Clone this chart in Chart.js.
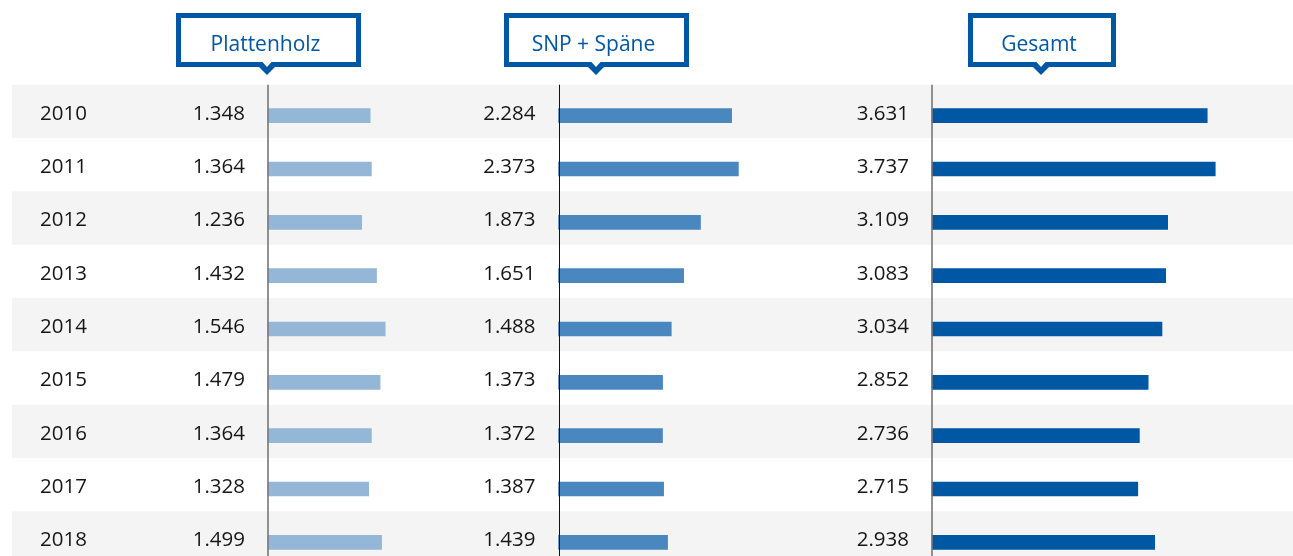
<!DOCTYPE html>
<html>
<head>
<meta charset="utf-8">
<script src="https://cdn.jsdelivr.net/npm/chart.js@4/dist/chart.umd.min.js"></script>
<style>
  html, body { margin: 0; padding: 0; background: #ffffff; overflow: hidden; }
  #wrap { width: 1293px; height: 572px; position: relative; }
</style>
</head>
<body>
<div id="wrap"><canvas id="c" width="1293" height="572"></canvas></div>
<script>
// ---- data ----
const years = ['2010', '2011', '2012', '2013', '2014', '2015', '2016', '2017', '2018'];
const plattenholz = [1348, 1364, 1236, 1432, 1546, 1479, 1364, 1328, 1499];
const snpSpaene   = [2284, 2373, 1873, 1651, 1488, 1373, 1372, 1387, 1439];
const gesamt      = [3631, 3737, 3109, 3083, 3034, 2852, 2736, 2715, 2938];
const seriesNames = ['Plattenholz', 'SNP + Späne', 'Gesamt'];

// ---- layout / style ----
const W = 1293;
const PX_PER_UNIT = 0.0758;               // pixels per data unit (shared scale)
const axisPx = [268, 558.5, 932];          // baseline positions of the three panels
const barColors = ['#95b7d7', '#4a87bf', '#0057a4'];
const axisColors = ['#777777', '#111111', '#777777'];
const axisWidths = [1.6, 1, 1.6];
const headerBoxes = [ // [left, right, pointerX]
  [176, 361, 267],
  [504, 689, 596],
  [968, 1116, 1041]
];
const BLUE = '#0057a4';
const FONT = '"Open Sans", "Liberation Sans", sans-serif';

function fmt(v) {
  const s = String(Math.round(v));
  return s.replace(/\B(?=(\d{3})+(?!\d))/g, '.');
}

function axisRange(px) {
  return { min: -px / PX_PER_UNIT, max: (W - px) / PX_PER_UNIT };
}

const seriesData = [plattenholz, snpSpaene, gesamt];

const decor = {
  id: 'decor',
  beforeDatasetsDraw(chart) {
    const ctx = chart.ctx;
    const y = chart.scales.y;
    const half = (y.getPixelForValue(1) - y.getPixelForValue(0)) / 2;
    ctx.save();
    ctx.fillStyle = '#f4f4f4';
    years.forEach((yr, i) => {
      if (i % 2 === 0) {
        const c = y.getPixelForValue(i) - 4.3;
        ctx.fillRect(12, c - half, W - 12, half * 2);
      }
    });
    ctx.restore();
  },
  afterDatasetsDraw(chart) {
    const ctx = chart.ctx;
    const y = chart.scales.y;
    const half = (y.getPixelForValue(1) - y.getPixelForValue(0)) / 2;
    const top = y.getPixelForValue(0) - 4.3 - half;
    ctx.save();
    // axis lines
    ['x1', 'x2', 'x3'].forEach((id, k) => {
      const sc = chart.scales[id];
      const x = Math.round(sc.getPixelForValue(0)) + (axisWidths[k] === 1 ? 0.5 : 0);
      ctx.strokeStyle = axisColors[k];
      ctx.lineWidth = axisWidths[k];
      ctx.beginPath();
      ctx.moveTo(x, top);
      ctx.lineTo(x, chart.height);
      ctx.stroke();
    });
    // text
    ctx.font = '20.5px ' + FONT;
    ctx.fillStyle = '#161616';
    ctx.textBaseline = 'alphabetic';
    years.forEach((yr, i) => {
      const base = y.getPixelForValue(i) + 4;
      ctx.textAlign = 'left';
      ctx.fillText(yr, 40, base);
      ctx.textAlign = 'right';
      ['x1', 'x2', 'x3'].forEach((id, k) => {
        const x0 = chart.scales[id].getPixelForValue(0);
        ctx.fillText(fmt(seriesData[k][i]), x0 - 23, base);
      });
    });
    // header boxes
    headerBoxes.forEach((b, k) => {
      const [l, r, px] = b;
      const t = 13, bt = 67, bw = 5;
      ctx.fillStyle = BLUE;
      ctx.fillRect(l, t, r - l, bt - t);
      ctx.beginPath();
      ctx.moveTo(px - 9, bt - 1);
      ctx.lineTo(px + 9, bt - 1);
      ctx.lineTo(px, bt + 8);
      ctx.closePath();
      ctx.fill();
      ctx.fillStyle = '#ffffff';
      ctx.fillRect(l + bw, t + bw, r - l - 2 * bw, bt - t - 2 * bw);
      ctx.beginPath();
      ctx.moveTo(px - 5, bt - bw - 0.5);
      ctx.lineTo(px + 5, bt - bw - 0.5);
      ctx.lineTo(px, bt);
      ctx.closePath();
      ctx.fill();
      ctx.fillStyle = BLUE;
      ctx.font = '21px ' + FONT;
      ctx.textAlign = 'center';
      ctx.fillText(seriesNames[k], (l + r) / 2 - 3, 51);
    });
    ctx.restore();
  }
};

const r1 = axisRange(axisPx[0]);
const r2 = axisRange(axisPx[1]);
const r3 = axisRange(axisPx[2]);

new Chart(document.getElementById('c'), {
  type: 'bar',
  data: {
    labels: years,
    datasets: [
      { label: seriesNames[0], data: plattenholz, xAxisID: 'x1', backgroundColor: barColors[0] },
      { label: seriesNames[1], data: snpSpaene, xAxisID: 'x2', backgroundColor: barColors[1] },
      { label: seriesNames[2], data: gesamt, xAxisID: 'x3', backgroundColor: barColors[2] }
    ]
  },
  options: {
    indexAxis: 'y',
    responsive: false,
    devicePixelRatio: 1,
    animation: false,
    layout: { padding: { top: 89, bottom: 3, left: 0, right: 0 } },
    datasets: { bar: { grouped: false, barThickness: 14, borderWidth: 0 } },
    plugins: { legend: { display: false }, tooltip: { enabled: false } },
    scales: {
      y: { type: 'category', display: false, offset: true },
      x1: { type: 'linear', axis: 'x', display: false, min: r1.min, max: r1.max },
      x2: { type: 'linear', axis: 'x', display: false, min: r2.min, max: r2.max },
      x3: { type: 'linear', axis: 'x', display: false, min: r3.min, max: r3.max }
    }
  },
  plugins: [decor]
});
</script>
</body>
</html>
